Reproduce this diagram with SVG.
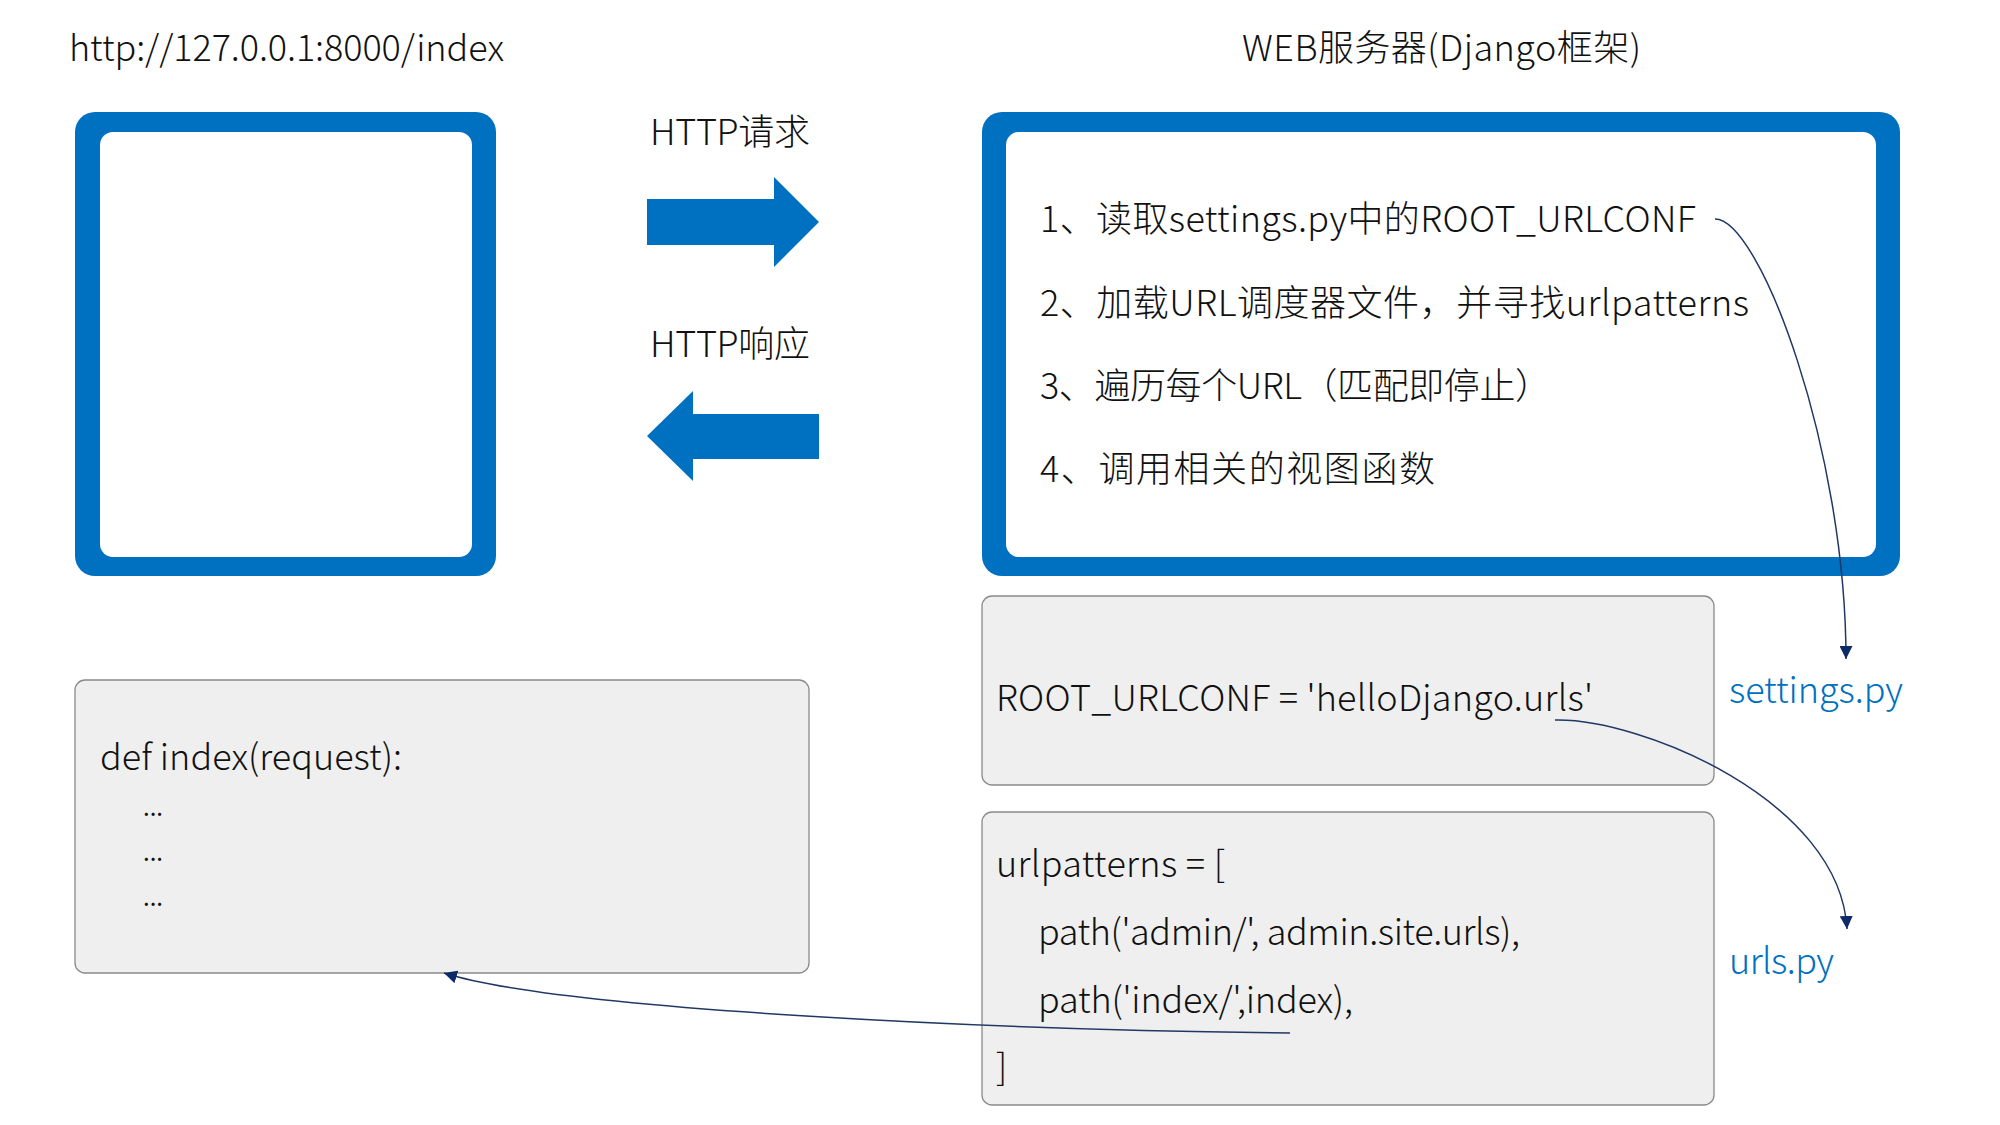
<svg xmlns="http://www.w3.org/2000/svg" width="2000" height="1125" viewBox="0 0 2000 1125">
<defs>
<style>
text{font-family:"Noto Sans CJK SC","Noto Sans",sans-serif;font-weight:300;fill:#111;font-size:36px}
.blue{fill:#0070C0}
.frame{fill:#0070C0}
.inner{fill:#fff}
.code{fill:#efefef;stroke:#8a8a8a;stroke-width:1.3}
.conn{fill:none;stroke:#203864;stroke-width:1.5}
.dots{font-size:24px;font-weight:400}
</style>
<marker id="ah" markerUnits="userSpaceOnUse" markerWidth="13" markerHeight="13" refX="12" refY="6" orient="auto" viewBox="0 0 12 12">
<path d="M0,0 L12,6 L0,12 z" fill="#0b2a66"/>
</marker>
</defs>
<rect width="2000" height="1125" fill="#fff"/>

<g id="browser-title"><text x="69" y="61" textLength="435" lengthAdjust="spacing">http://127.0.0.1:8000/index</text></g>
<g id="server-title"><text x="1242" y="61" textLength="399" lengthAdjust="spacing">WEB服务器(Django框架)</text></g>

<g id="browser">
<rect class="frame" x="75" y="112" width="421" height="464" rx="20"/>
<rect class="inner" x="100" y="132" width="372" height="425" rx="13"/>
</g>

<g id="request">
<text x="650" y="145" textLength="160" lengthAdjust="spacing">HTTP请求</text>
<polygon class="frame" points="647,199 774,199 774,177 819,222 774,267 774,245 647,245"/>
</g>
<g id="response">
<text x="650" y="357" textLength="160" lengthAdjust="spacing">HTTP响应</text>
<polygon class="frame" points="819,414 693,414 693,391 647,436 693,481 693,459 819,459"/>
</g>

<g id="server">
<rect class="frame" x="982" y="112" width="918" height="464" rx="20"/>
<rect class="inner" x="1006" y="132" width="870" height="425" rx="13"/>
<text x="1040" y="232" textLength="656" lengthAdjust="spacing">1、读取settings.py中的ROOT_URLCONF</text>
<text x="1040" y="316" textLength="709" lengthAdjust="spacing">2、加载URL调度器文件，并寻找urlpatterns</text>
<text x="1040" y="399" textLength="511" lengthAdjust="spacing">3、遍历每个URL（匹配即停止）</text>
<text x="1040" y="482" textLength="395" lengthAdjust="spacing">4、调用相关的视图函数</text>
</g>

<g id="settings-code">
<rect class="code" x="982" y="596" width="732" height="189" rx="10"/>
<text x="996" y="711" textLength="597" lengthAdjust="spacing">ROOT_URLCONF = 'helloDjango.urls'</text>
</g>
<g id="settings-label"><text class="blue" x="1729" y="703" textLength="174" lengthAdjust="spacing">settings.py</text></g>

<g id="urls-code">
<rect class="code" x="982" y="812" width="732" height="293" rx="10"/>
<text x="996" y="877" textLength="229" lengthAdjust="spacing">urlpatterns = [</text>
<text x="1038" y="945" textLength="482" lengthAdjust="spacing">path('admin/', admin.site.urls),</text>
<text x="1038" y="1013" textLength="315" lengthAdjust="spacing">path('index/',index),</text>
<text x="996" y="1080">]</text>
</g>
<g id="urls-label"><text class="blue" x="1729" y="974" textLength="105" lengthAdjust="spacing">urls.py</text></g>

<g id="view">
<rect class="code" x="75" y="680" width="734" height="293" rx="10"/>
<text x="100" y="770" textLength="302" lengthAdjust="spacing">def index(request):</text>
<text class="dots" x="143" y="816">...</text>
<text class="dots" x="143" y="861">...</text>
<text class="dots" x="143" y="906">...</text>
</g>

<g id="connectors">
<path class="conn" d="M1715,219 C1760,219 1846,450 1846,659" marker-end="url(#ah)"/>
<path class="conn" d="M1555,720 C1640,718 1840,800 1847,929" marker-end="url(#ah)"/>
<path class="conn" d="M1290,1033 C1000,1030 560,1010 444,973" marker-end="url(#ah)"/>
</g>
</svg>
